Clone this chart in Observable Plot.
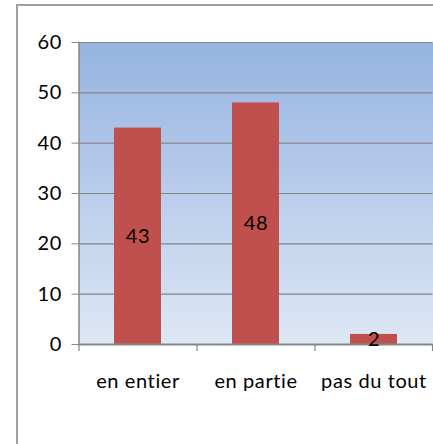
<!DOCTYPE html>
<html>
<head>
<meta charset="utf-8">
<script src="https://cdn.jsdelivr.net/npm/d3@7"></script>
<script src="https://cdn.jsdelivr.net/npm/@observablehq/plot@0.6"></script>
<style>
  html, body { margin: 0; padding: 0; background: #fff; overflow: hidden; }
  #wrap { position: relative; width: 433px; height: 444px; overflow: hidden; }
  #border { position: absolute; left: 16px; top: 4px; width: 600px; height: 600px; border: 2px solid #a0a0a0; box-sizing: border-box; }
  #chart { position: absolute; left: 0; top: 0; }
  #chart svg text { letter-spacing: 0.6px; }
</style>
</head>
<body>
<div id="wrap"><div id="border"></div><div id="chart"></div></div>
<script>
const categories = ["en entier", "en partie", "pas du tout"];
const values = [43, 48, 2];
const yTicks = [0, 10, 20, 30, 40, 50, 60];

const data = categories.map((c, i) => ({category: c, value: values[i]}));

const W = 433, H = 444;
const mL = 78.5, mR = 0.5, mT = 42, mB = 100;
const step = (W - mL - mR) / categories.length;

const plot = Plot.plot({
  width: W,
  height: H,
  marginLeft: mL,
  marginRight: mR,
  marginTop: mT,
  marginBottom: mB,
  style: {fontFamily: "Lato, 'Open Sans', sans-serif", fontSize: "20px", color: "#000", background: "transparent"},
  x: {domain: categories, paddingInner: 0.6, paddingOuter: 0.3, label: null},
  y: {domain: [0, 60], label: null},
  marks: [
    Plot.frame({fill: "url(#bgGrad)", stroke: "none"}),
    Plot.ruleY(yTicks, {stroke: "#868686", strokeWidth: 1.2}),
    Plot.axisY(yTicks, {tickSize: 7, tickPadding: 10, stroke: "#868686", fontSize: 20, fill: "#000"}),
    Plot.frame({anchor: "left", stroke: "#868686", strokeWidth: 1.5}),
    Plot.barY(data, {x: "category", y: "value", fill: "#c0504d"}),
    Plot.ruleY([0], {stroke: "#868686", strokeWidth: 2}),
    Plot.ruleX(categories, {dx: -step / 2, stroke: "#868686", strokeWidth: 1.2, insetTop: H - mT - mB, insetBottom: -7}),
    Plot.ruleX(categories.slice(-1), {dx: step / 2 - 0.5, stroke: "#868686", strokeWidth: 1.2, insetTop: H - mT - mB, insetBottom: -7}),
    Plot.axisX({tickSize: 0, tickPadding: 29, fontSize: 20, fill: "#000"}),
    Plot.text(data, {x: "category", y: d => d.value / 2, text: d => String(d.value), fontSize: 20, fill: "#000"})
  ]
});

const defs = d3.create("svg:defs");
const grad = defs.append("linearGradient").attr("id", "bgGrad").attr("x1", 0).attr("y1", 0).attr("x2", 0).attr("y2", 1);
grad.append("stop").attr("offset", "0%").attr("stop-color", "#95b3e0");
grad.append("stop").attr("offset", "100%").attr("stop-color", "#dee7f5");
plot.insertBefore(defs.node(), plot.firstChild);

document.getElementById("chart").appendChild(plot);
</script>
</body>
</html>
